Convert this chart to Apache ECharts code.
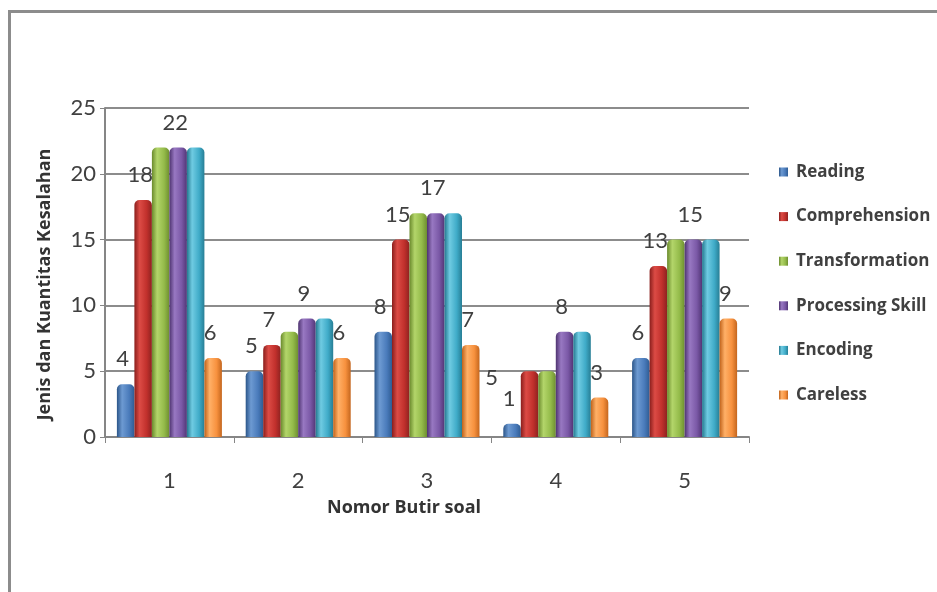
<!DOCTYPE html>
<html>
<head>
<meta charset="utf-8">
<script src="https://cdn.jsdelivr.net/npm/echarts@6/dist/echarts.min.js"></script>
<style>
  html, body { margin: 0; padding: 0; background: #fff; }
  #chart { width: 937px; height: 592px; }
</style>
</head>
<body>
<div id="chart"></div>
<script>
// Question numbers on the x axis
const categories = ['1', '2', '3', '4', '5'];

// Error counts per type, one value per question
const reading        = [4, 5, 8, 1, 6];
const comprehension  = [18, 7, 15, 5, 13];
const transformation = [22, 8, 17, 5, 15];
const processing     = [22, 9, 17, 8, 15];
const encoding       = [22, 9, 17, 8, 15];
const careless       = [6, 6, 7, 3, 9];

const seriesNames = ['Reading', 'Comprehension', 'Transformation', 'Processing Skill', 'Encoding', 'Careless'];
const seriesValues = [reading, comprehension, transformation, processing, encoding, careless];

// Which series carry value labels
const showLabels = [true, true, false, true, false, true];

// Cylinder-like shading: [dark edge, light, base, dark edge]
const palettes = [
  ['#2b5589', '#6d9ad2', '#4a7bbb', '#2f5c93'],
  ['#8a1e1c', '#dc4b45', '#c1302c', '#8e2220'],
  ['#6a8a2c', '#b3d56a', '#94bb4a', '#6e8f30'],
  ['#4e3370', '#9878c2', '#7a58a6', '#523676'],
  ['#23788f', '#6fcbe2', '#3fabc8', '#277e95'],
  ['#c0621a', '#ffb067', '#f7913e', '#c4661e']
];

function shade(p) {
  return new echarts.graphic.LinearGradient(0, 0, 1, 0, [
    { offset: 0, color: p[0] },
    { offset: 0.3, color: p[1] },
    { offset: 0.7, color: p[2] },
    { offset: 1, color: p[3] }
  ]);
}

const labelFont = 'Lato, "Open Sans", sans-serif';
const titleFont = '"Open Sans", Lato, sans-serif';

const series = seriesNames.map((name, s) => ({
  name: name,
  type: 'bar',
  barWidth: 17.5,
  barGap: '0%',
  data: seriesValues[s].map((v, i) => {
    // the label of question 4 comprehension sits down-left of its bar
    if (s === 1 && i === 3) return { value: v, label: { offset: [-38, 32] } };
    return v;
  }),
  itemStyle: { color: shade(palettes[s]), borderRadius: [5, 5, 0, 0] },
  label: {
    show: showLabels[s],
    position: 'top',
    distance: 14,
    offset: [-3, 0],
    color: '#404040',
    fontFamily: labelFont,
    fontSize: 22
  }
}));

const chart = echarts.init(document.getElementById('chart'), null, { renderer: 'canvas' });
chart.setOption({
  animation: false,
  backgroundColor: '#ffffff',
  color: palettes.map(p => p[2]),
  graphic: [{
    type: 'rect',
    shape: { x: 9.5, y: 11.5, width: 1000, height: 1000 },
    style: { fill: 'none', stroke: '#8c8c8c', lineWidth: 3 },
    silent: true
  }],
  grid: { left: 105, right: 188, top: 108, bottom: 155 },
  legend: {
    orient: 'vertical',
    left: 774,
    top: 158,
    icon: 'rect',
    itemWidth: 9,
    itemHeight: 9,
    itemGap: 26.6,
    textStyle: {
      color: '#404040',
      fontFamily: titleFont,
      fontWeight: 'bold',
      fontSize: 17,
      lineHeight: 18,
      padding: [0, 0, 0, 3]
    },
    data: seriesNames.map((n, s) => ({ name: n, itemStyle: { color: shade(palettes[s]) } }))
  },
  xAxis: {
    type: 'category',
    data: categories,
    name: 'Nomor Butir soal',
    nameLocation: 'middle',
    nameGap: 62,
    nameTextStyle: {
      color: '#333',
      fontFamily: titleFont,
      fontWeight: 'bold',
      fontSize: 18,
      padding: [0, 46, 0, 0]
    },
    axisLine: { lineStyle: { color: '#868686', width: 2 } },
    axisTick: { show: true, length: 6, lineStyle: { color: '#868686', width: 1 } },
    axisLabel: { color: '#404040', fontFamily: labelFont, fontSize: 22, margin: 33 }
  },
  yAxis: {
    type: 'value',
    min: 0,
    max: 25,
    interval: 5,
    name: 'Jenis dan Kuantitas Kesalahan',
    nameLocation: 'middle',
    nameGap: 51,
    nameTextStyle: {
      color: '#333',
      fontFamily: titleFont,
      fontWeight: 'bold',
      fontSize: 18,
      padding: [0, 24, 0, 0]
    },
    axisLine: { show: true, lineStyle: { color: '#868686', width: 2 } },
    axisTick: { show: true, length: 5, lineStyle: { color: '#868686' } },
    axisLabel: { color: '#404040', fontFamily: labelFont, fontSize: 22, margin: 9 },
    splitLine: { lineStyle: { color: '#8c8c8c', width: 2 } }
  },
  series: series
});
</script>
</body>
</html>
